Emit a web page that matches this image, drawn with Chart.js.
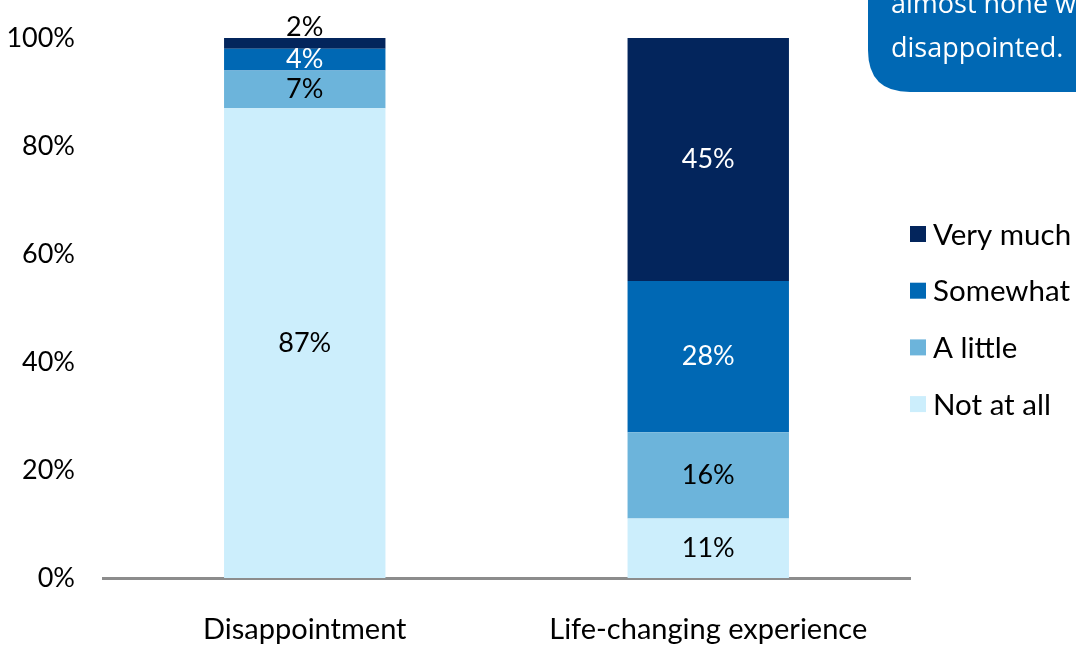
<!DOCTYPE html>
<html>
<head>
<meta charset="utf-8">
<script src="https://cdn.jsdelivr.net/npm/chart.js@4"></script>
<style>
  html, body { margin: 0; padding: 0; background: #fff; }
  #wrap { width: 1076px; height: 648px; position: relative; }
</style>
</head>
<body>
<div id="wrap"><canvas id="myChart" width="1076" height="648"></canvas></div>
<script>
// data
let categories = ['Disappointment', 'Life-changing experience'];
let notAtAll = [87, 11];
let aLittle = [7, 16];
let somewhat = [4, 28];
let veryMuch = [2, 45];
let yTicks = [0, 20, 40, 60, 80, 100];
let calloutLines = ['almost none were', 'disappointed.'];

let FONT = 'Lato, "Gill Sans", sans-serif';

// value labels on each bar segment
let barLabels = {
    id: 'barLabels',
    afterDatasetsDraw(chart) {
        let ctx = chart.ctx;
        ctx.save();
        ctx.font = '27px ' + FONT;
        ctx.textAlign = 'center';
        ctx.textBaseline = 'middle';
        chart.data.datasets.forEach((ds, i) => {
            let meta = chart.getDatasetMeta(i);
            meta.data.forEach((bar, j) => {
                let h = bar.base - bar.y;
                let y = (bar.y + bar.base) / 2;
                let color = ds.labelColor;
                if (h < 16) {
                    y = bar.y - 11;
                    color = '#000';
                }
                ctx.fillStyle = color;
                ctx.fillText(ds.data[j] + '%', bar.x, y);
            });
        });
        ctx.restore();
    }
};

// legend on the right + callout box top right
let extras = {
    id: 'extras',
    afterDraw(chart) {
        let ctx = chart.ctx;
        let area = chart.chartArea;
        ctx.save();

        // legend, reversed order
        let items = chart.data.datasets.slice().reverse();
        ctx.font = '29.5px ' + FONT;
        ctx.textBaseline = 'middle';
        ctx.textAlign = 'left';
        items.forEach((ds, k) => {
            let cy = 234 + k * 56.7;
            ctx.fillStyle = ds.backgroundColor;
            ctx.fillRect(area.right, cy - 8, 16, 16);
            ctx.fillStyle = '#000';
            ctx.fillText(ds.label, area.right + 23, cy + 1);
        });

        // callout box (cut off by the page edge)
        let x0 = 868, y1 = 92, r = 42;
        ctx.fillStyle = '#0068B4';
        ctx.beginPath();
        ctx.moveTo(x0, -20);
        ctx.lineTo(x0, y1 - r);
        ctx.quadraticCurveTo(x0, y1, x0 + r, y1);
        ctx.lineTo(1100, y1);
        ctx.lineTo(1100, -20);
        ctx.closePath();
        ctx.fill();

        ctx.fillStyle = '#fff';
        ctx.font = '27px "Open Sans", sans-serif';
        ctx.textBaseline = 'alphabetic';
        ctx.fillText(calloutLines[0], 891, 13);
        ctx.fillText(calloutLines[1], 891, 57);
        ctx.restore();
    }
};

let myChart = document.getElementById('myChart').getContext('2d');

let drawChart = () => {
    let stackedChart = new Chart(myChart, {
        type: 'bar',
        data: {
            labels: categories,
            datasets: [
                { label: 'Not at all', data: notAtAll, backgroundColor: '#CCEEFC', labelColor: '#000' },
                { label: 'A little', data: aLittle, backgroundColor: '#6CB4DB', labelColor: '#000' },
                { label: 'Somewhat', data: somewhat, backgroundColor: '#0068B4', labelColor: '#fff' },
                { label: 'Very much', data: veryMuch, backgroundColor: '#03255C', labelColor: '#fff' }
            ]
        },
        options: {
            responsive: false,
            animation: false,
            layout: {
                padding: { top: 38, right: 166, left: 0, bottom: 0 }
            },
            datasets: {
                bar: { barPercentage: 0.4, categoryPercentage: 1, borderWidth: 0 }
            },
            scales: {
                x: {
                    stacked: true,
                    grid: { display: false, drawTicks: false },
                    border: { display: true, color: '#8C8C8C', width: 3 },
                    ticks: {
                        color: '#000',
                        font: { family: FONT, size: 29 },
                        padding: 34,
                        maxRotation: 0
                    },
                    afterFit: (scale) => { scale.height = 70; }
                },
                y: {
                    stacked: true,
                    min: 0,
                    max: 100,
                    afterBuildTicks: (scale) => {
                        scale.ticks = yTicks.map(v => ({ value: v }));
                    },
                    grid: { display: false, drawTicks: false },
                    border: { display: false },
                    ticks: {
                        color: '#000',
                        font: { family: FONT, size: 27 },
                        padding: 28,
                        callback: (v) => v + '%'
                    },
                    afterFit: (scale) => {
                        scale.width = 103;
                        scale.paddingTop = 0;
                        scale.paddingBottom = 0;
                    }
                }
            },
            plugins: {
                legend: { display: false },
                tooltip: { enabled: false },
                title: { display: false }
            }
        },
        plugins: [barLabels, extras]
    });
};

drawChart();
</script>
</body>
</html>
